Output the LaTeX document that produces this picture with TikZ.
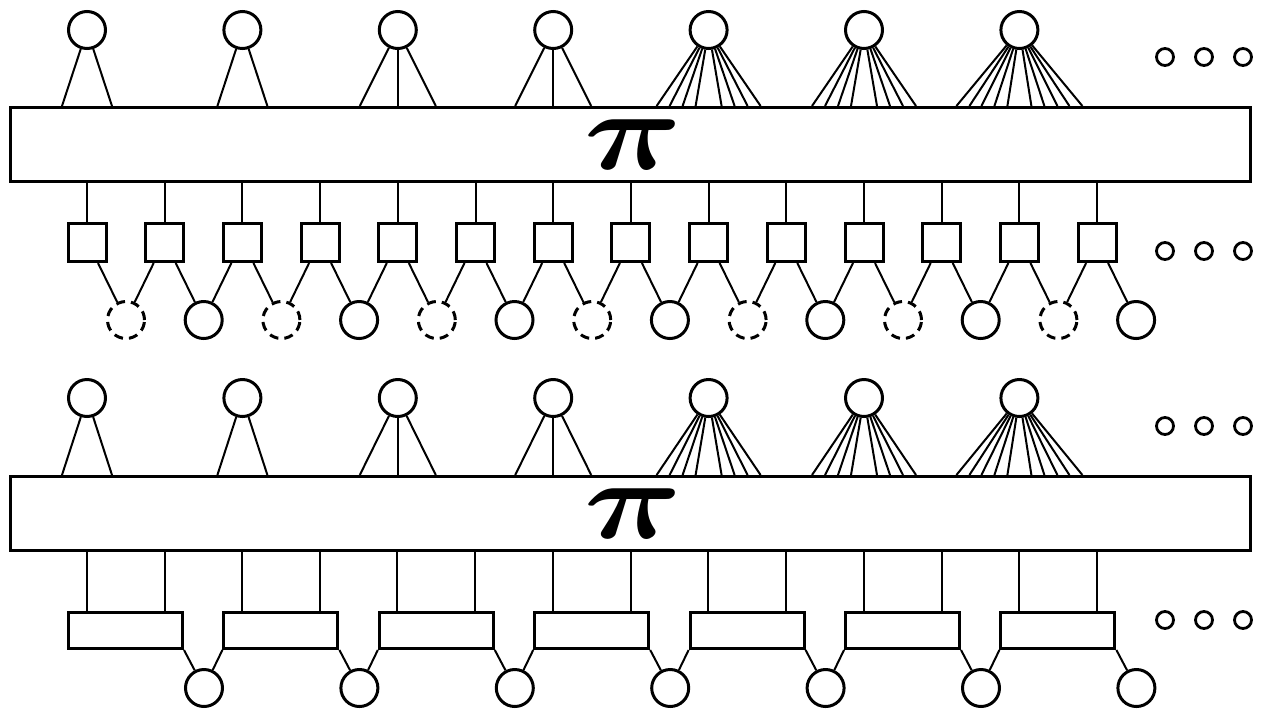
\documentclass[tikz,border=0pt]{standalone}
\usepackage{amsmath}
\usetikzlibrary{calc}
\begin{document}
\begin{tikzpicture}[x=1pt,y=-1pt,
  vnode/.style={circle,draw,line width=3pt,minimum size=37pt,inner sep=0pt},
  hidden/.style={vnode,dash pattern=on 9pt off 6pt},
  dotnode/.style={circle,draw,line width=2.8pt,minimum size=17pt,inner sep=0pt},
  sqnode/.style={rectangle,draw,line width=3pt,minimum size=38pt,inner sep=0pt},
  widenode/.style={rectangle,draw,line width=3pt,minimum width=114pt,minimum height=36pt,inner sep=0pt},
  bar/.style={rectangle,draw,line width=3pt,minimum width=1240pt,minimum height=74pt,inner sep=0pt},
  pisym/.style={inner sep=0pt},
  edge/.style={line width=2pt}]
\useasboundingbox (0,0) rectangle (1266,713);

% fan-out offsets of the edges below each top variable
\def\fanA{-25,25}
\def\fanB{-38,0,38}
\def\fanC{-52,-39,-26,-13,13,26,39,52}
\def\fanD{-63,-50,-38,-25,-12,12,25,38,50,63}

% two layers: variables, the permutation bar, and the trailing dots
\foreach \L/\ty/\by in {1/30/144.5, 2/398/513.5} {
  \node[bar] (P\L) at (630.5,\by) {};
  \node[pisym] (Q\L) at (633,{\by+0.5}) {\scalebox{13.6}[11.2]{$\boldsymbol{\pi}$}};
  \foreach \i in {0,...,6}
    \node[vnode] (T\L-\i) at ({87+155.4*\i},\ty) {};
  \foreach \e in {0,1,2} {
    \node[dotnode] (E\L-\e) at ({1165+39*\e},{\by-87.5}) {};
    \node[dotnode] (F\L-\e) at ({1165+39*\e},{\by+106.5}) {};
  }
  \foreach \o in \fanA {
    \draw[edge] (T\L-0) -- ($(T\L-0 |- P\L.north)+(\o,0)$);
    \draw[edge] (T\L-1) -- ($(T\L-1 |- P\L.north)+(\o,0)$);
  }
  \foreach \o in \fanB {
    \draw[edge] (T\L-2) -- ($(T\L-2 |- P\L.north)+(\o,0)$);
    \draw[edge] (T\L-3) -- ($(T\L-3 |- P\L.north)+(\o,0)$);
  }
  \foreach \o in \fanC {
    \draw[edge] (T\L-4) -- ($(T\L-4 |- P\L.north)+(\o,0)$);
    \draw[edge] (T\L-5) -- ($(T\L-5 |- P\L.north)+(\o,0)$);
  }
  \foreach \o in \fanD
    \draw[edge] (T\L-6) -- ($(T\L-6 |- P\L.north)+(\o,0)$);
}

% first layer: square checks feeding alternating hidden and visible nodes
\foreach \k in {0,...,13} {
  \node[sqnode] (S\k) at ({87+77.7*\k},242.5) {};
  \draw[edge] (S\k.north) -- (S\k.north |- P1.south);
}
\foreach \j in {0,2,...,12}
  \node[hidden] (C\j) at ({126+77.7*\j},320) {};
\foreach \j in {1,3,...,13}
  \node[vnode] (C\j) at ({126+77.7*\j},320) {};
\foreach \k in {0,...,13}
  \draw[edge] ([xshift=11pt]S\k.south) -- (C\k);
\foreach \k [evaluate=\k as \p using int(\k-1)] in {1,...,13}
  \draw[edge] ([xshift=-11pt]S\k.south) -- (C\p);

% second layer: wide checks joined by shared output nodes
\foreach \k in {0,...,6} {
  \node[widenode] (W\k) at ({125.5+155.4*\k},630.5) {};
  \node[vnode] (D\k) at ({204+155.4*\k},688) {};
  \draw[edge] ([xshift=-39pt]W\k.north) -- ([xshift=-39pt]W\k.north |- P2.south);
  \draw[edge] ([xshift=39pt]W\k.north) -- ([xshift=39pt]W\k.north |- P2.south);
  \draw[edge] (W\k.south east) -- (D\k);
}
\foreach \k [evaluate=\k as \p using int(\k-1)] in {1,...,6}
  \draw[edge] (W\k.south west) -- (D\p);
\end{tikzpicture}
\end{document}
